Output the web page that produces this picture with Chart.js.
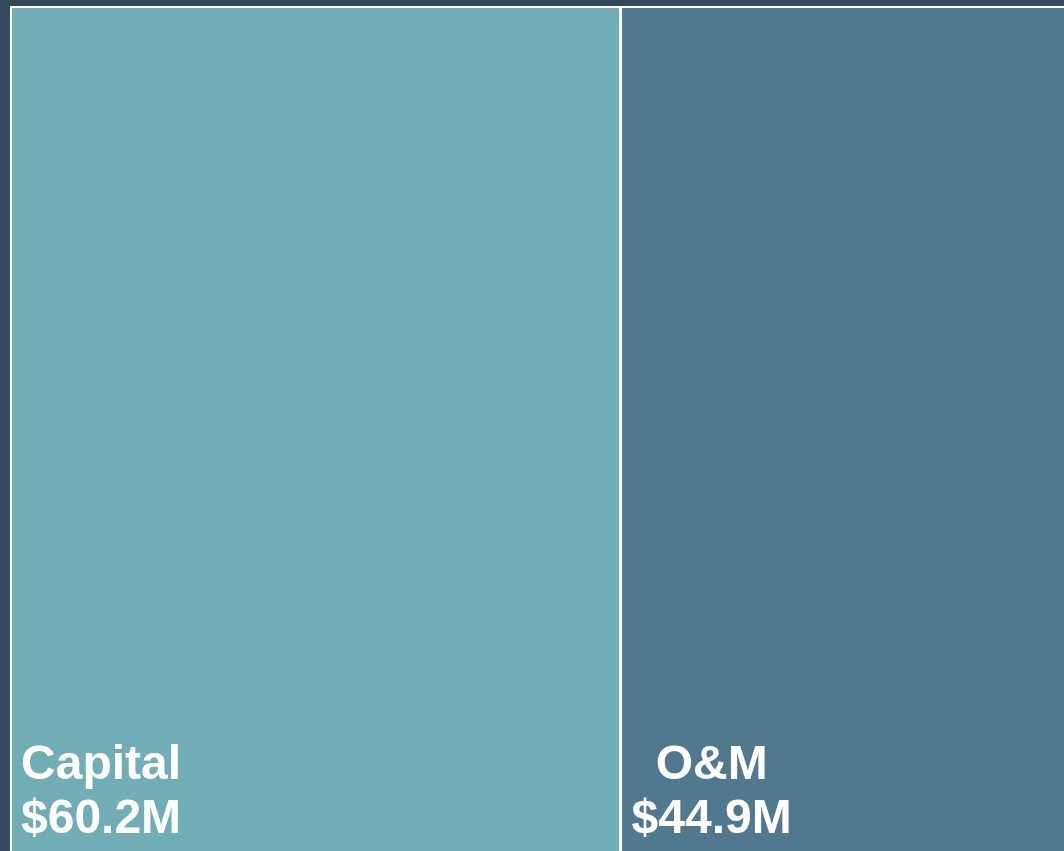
<!DOCTYPE html>
<html>
<head>
<meta charset="utf-8">
<script src="https://cdn.jsdelivr.net/npm/chart.js@4/dist/chart.umd.min.js"></script>
<style>
  html, body { margin: 0; padding: 0; background: #34495b; overflow: hidden; width: 1064px; height: 851px; }
  #wrap { position: absolute; left: 0; top: 0; width: 1076px; height: 880px; }
</style>
</head>
<body>
<div id="wrap"><canvas id="c"></canvas></div>
<script>
const categories = ['Capital', 'O&M'];
const values = [60.2, 44.9];
const valueLabels = ['$60.2M', '$44.9M'];
const colors = ['#71adb7', '#50788f'];

const total = values.reduce((a, b) => a + b, 0);

const backdropPlugin = {
  id: 'whiteBackdrop',
  beforeDatasetsDraw(chart) {
    const { ctx, chartArea: a } = chart;
    ctx.save();
    ctx.fillStyle = '#ffffff';
    ctx.fillRect(a.left, a.top, a.right - a.left, a.bottom - a.top);
    ctx.restore();
  }
};

const labelPlugin = {
  id: 'cellLabels',
  afterDatasetsDraw(chart) {
    const ctx = chart.ctx;
    ctx.save();
    ctx.font = 'bold 48px "Liberation Sans", Arial, sans-serif';
    ctx.fillStyle = '#ffffff';
    ctx.textBaseline = 'alphabetic';
    chart.data.datasets.forEach((ds, i) => {
      const meta = chart.getDatasetMeta(i);
      const bar = meta.data[0];
      const left = Math.min(bar.x, bar.base);
      const lines = [categories[i], valueLabels[i]];
      const w = Math.max(...lines.map(t => ctx.measureText(t).width));
      const cx = left + 11 + w / 2;
      ctx.textAlign = 'center';
      ctx.fillText(lines[0], cx, 779);
      ctx.fillText(lines[1], cx, 833);
    });
    ctx.restore();
  }
};

new Chart(document.getElementById('c'), {
  type: 'bar',
  data: {
    labels: ['Budget'],
    datasets: categories.map((name, i) => ({
      label: name,
      data: [values[i]],
      backgroundColor: colors[i],
      borderColor: '#ffffff',
      borderWidth: i === 0 ? { top: 2, left: 2, right: 1.5, bottom: 2 } : { top: 2, left: 1.5, right: 2, bottom: 2 },
      borderSkipped: false,
      inflateAmount: 0,
      categoryPercentage: 1,
      barPercentage: 1
    }))
  },
  options: {
    indexAxis: 'y',
    responsive: true,
    maintainAspectRatio: false,
    animation: false,
    devicePixelRatio: 1,
    layout: { padding: { left: 10, top: 6, right: 0, bottom: 0 } },
    scales: {
      x: { stacked: true, min: 0, max: total, display: false },
      y: { stacked: true, display: false }
    },
    plugins: {
      legend: { display: false },
      tooltip: { enabled: false }
    }
  },
  plugins: [backdropPlugin, labelPlugin]
});
</script>
</body>
</html>
